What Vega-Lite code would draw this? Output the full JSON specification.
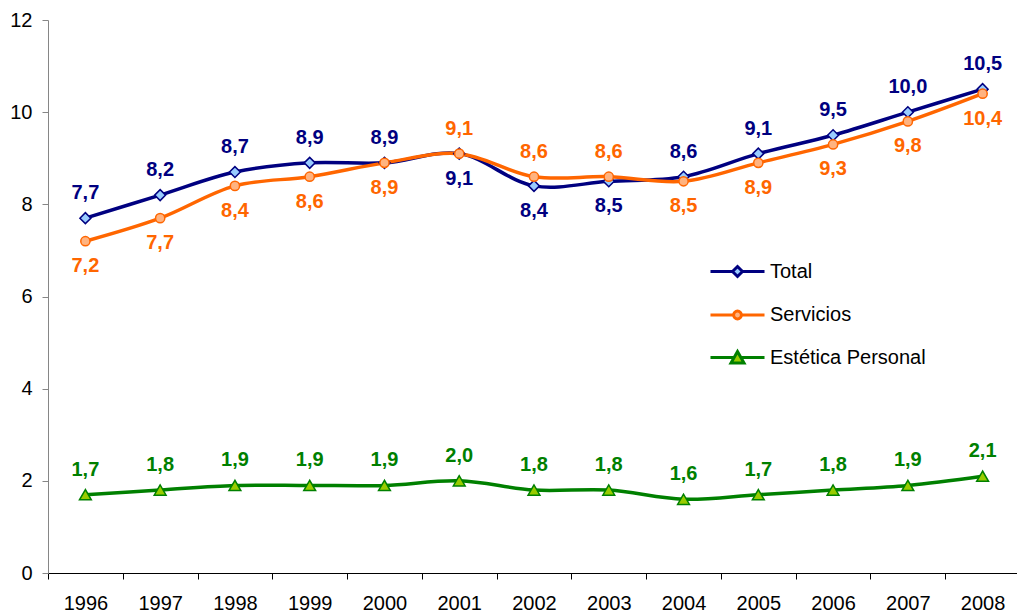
{
  "$schema": "https://vega.github.io/schema/vega-lite/v6.json",
  "width": 972,
  "height": 553,
  "autosize": "none",
  "padding": {"left": 48, "top": 20, "right": 0, "bottom": 43},
  "background": "white",
  "config": {
    "view": {"stroke": null},
    "font": "Liberation Sans",
    "locale": {"number": {"decimal": ",", "thousands": ".", "grouping": [3], "currency": ["", " €"]}}
  },
  "data": {"values": [
    {"year": "1996", "serie": "Total", "value": 7.7},
    {"year": "1997", "serie": "Total", "value": 8.2},
    {"year": "1998", "serie": "Total", "value": 8.7},
    {"year": "1999", "serie": "Total", "value": 8.9},
    {"year": "2000", "serie": "Total", "value": 8.9},
    {"year": "2001", "serie": "Total", "value": 9.1},
    {"year": "2002", "serie": "Total", "value": 8.4},
    {"year": "2003", "serie": "Total", "value": 8.5},
    {"year": "2004", "serie": "Total", "value": 8.6},
    {"year": "2005", "serie": "Total", "value": 9.1},
    {"year": "2006", "serie": "Total", "value": 9.5},
    {"year": "2007", "serie": "Total", "value": 10.0},
    {"year": "2008", "serie": "Total", "value": 10.5},
    {"year": "1996", "serie": "Servicios", "value": 7.2},
    {"year": "1997", "serie": "Servicios", "value": 7.7},
    {"year": "1998", "serie": "Servicios", "value": 8.4},
    {"year": "1999", "serie": "Servicios", "value": 8.6},
    {"year": "2000", "serie": "Servicios", "value": 8.9},
    {"year": "2001", "serie": "Servicios", "value": 9.1},
    {"year": "2002", "serie": "Servicios", "value": 8.6},
    {"year": "2003", "serie": "Servicios", "value": 8.6},
    {"year": "2004", "serie": "Servicios", "value": 8.5},
    {"year": "2005", "serie": "Servicios", "value": 8.9},
    {"year": "2006", "serie": "Servicios", "value": 9.3},
    {"year": "2007", "serie": "Servicios", "value": 9.8},
    {"year": "2008", "serie": "Servicios", "value": 10.4},
    {"year": "1996", "serie": "Estética Personal", "value": 1.7},
    {"year": "1997", "serie": "Estética Personal", "value": 1.8},
    {"year": "1998", "serie": "Estética Personal", "value": 1.9},
    {"year": "1999", "serie": "Estética Personal", "value": 1.9},
    {"year": "2000", "serie": "Estética Personal", "value": 1.9},
    {"year": "2001", "serie": "Estética Personal", "value": 2.0},
    {"year": "2002", "serie": "Estética Personal", "value": 1.8},
    {"year": "2003", "serie": "Estética Personal", "value": 1.8},
    {"year": "2004", "serie": "Estética Personal", "value": 1.6},
    {"year": "2005", "serie": "Estética Personal", "value": 1.7},
    {"year": "2006", "serie": "Estética Personal", "value": 1.8},
    {"year": "2007", "serie": "Estética Personal", "value": 1.9},
    {"year": "2008", "serie": "Estética Personal", "value": 2.1}
  ]},
  "encoding": {
    "x": {
      "field": "year", "type": "ordinal",
      "scale": {"type": "band", "paddingInner": 0, "paddingOuter": 0},
      "axis": {"title": null, "labelAngle": 0, "tickBand": "extent", "tickSize": 6, "labelPadding": 14,
               "labelFontSize": 20, "labelColor": "black", "labelFont": "Liberation Sans",
               "domainColor": "#000000", "tickColor": "#000000", "domainWidth": 1, "grid": false}
    },
    "y": {
      "field": "value", "type": "quantitative",
      "scale": {"domain": [0, 12], "nice": false},
      "axis": {"title": null, "values": [0, 2, 4, 6, 8, 10, 12], "format": "d", "grid": false,
               "tickSize": 6, "labelPadding": 10, "labelFontSize": 20, "labelColor": "black",
               "labelFont": "Liberation Sans", "domainColor": "#868686", "tickColor": "#868686"}
    }
  },
  "layer": [
    {
      "transform": [{"filter": "false"}],
      "mark": {"type": "point", "filled": true, "opacity": 1, "strokeWidth": 3},
      "encoding": {
        "shape": {"field": "serie", "type": "nominal",
                  "scale": {"domain": ["Total", "Servicios", "Estética Personal"],
                            "range": ["M-2.5,0H-0.46M0.46,0H2.5M0,-0.46L0.46,0L0,0.46L-0.46,0Z",
                                      "M-2.5,0H-0.36M0.36,0H2.5M-0.36,0A0.36,0.36,0,1,0,0.36,0A0.36,0.36,0,1,0,-0.36,0Z",
                                      "M-2.5,0H-0.31M0.31,0H2.5M0,-0.55L0.6,0.5L-0.6,0.5Z"]}},
        "fill": {"field": "serie", "type": "nominal",
                 "scale": {"domain": ["Total", "Servicios", "Estética Personal"], "range": ["#99CCFF", "#FFB380", "#99CC00"]}},
        "stroke": {
          "field": "serie", "type": "nominal",
          "scale": {"domain": ["Total", "Servicios", "Estética Personal"], "range": ["#000080", "#FF6600", "#008000"]},
          "legend": {
            "title": null, "orient": "none", "legendX": 677, "legendY": 239, "padding": 0,
            "symbolSize": 467, "symbolStrokeWidth": 3, "symbolOpacity": 1, "labelFontSize": 20, "labelFont": "Liberation Sans",
            "labelColor": "black", "labelOffset": 20, "rowPadding": 19.5
          }
        }
      }
    },
    {
      "mark": {"type": "line", "interpolate": "catmull-rom", "strokeWidth": 3.5},
      "encoding": {
        "stroke": {"field": "serie", "type": "nominal"}
      }
    },
    {
      "transform": [{"filter": "datum.serie === 'Total'"}],
      "mark": {"type": "point", "filled": true, "shape": "diamond", "size": 120, "strokeWidth": 1.5, "opacity": 1, "fill": "#99CCFF", "stroke": "#000080"}
    },
    {
      "transform": [{"filter": "datum.serie === 'Servicios'"}],
      "mark": {"type": "point", "filled": true, "shape": "circle", "size": 85, "strokeWidth": 1.5, "opacity": 1, "fill": "#FFB380", "stroke": "#FF6600"}
    },
    {
      "transform": [{"filter": "datum.serie === 'Estética Personal'"}],
      "mark": {"type": "point", "filled": true, "shape": "triangle-up", "size": 140, "strokeWidth": 1.5, "opacity": 1, "fill": "#99CC00", "stroke": "#008000"}
    },
    {
      "transform": [{"filter": "(datum.serie === 'Total' && (datum.year < '2001' || datum.year > '2003')) || (datum.serie === 'Servicios' && datum.year >= '2001' && datum.year <= '2003') || datum.serie === 'Estética Personal'"}],
      "mark": {"type": "text", "fontWeight": "bold", "fontSize": 20, "font": "Liberation Sans", "dy": -25},
      "encoding": {
        "text": {"field": "value", "type": "quantitative", "format": ".1f"},
        "color": {"field": "serie", "type": "nominal",
                  "scale": {"domain": ["Total", "Servicios", "Estética Personal"], "range": ["#000080", "#FF6600", "#008000"]},
                  "legend": null}
      }
    },
    {
      "transform": [{"filter": "(datum.serie === 'Total' && datum.year >= '2001' && datum.year <= '2003') || (datum.serie === 'Servicios' && (datum.year < '2001' || datum.year > '2003'))"}],
      "mark": {"type": "text", "fontWeight": "bold", "fontSize": 20, "font": "Liberation Sans", "dy": 25},
      "encoding": {
        "text": {"field": "value", "type": "quantitative", "format": ".1f"},
        "color": {"field": "serie", "type": "nominal", "legend": null}
      }
    }
  ]
}
